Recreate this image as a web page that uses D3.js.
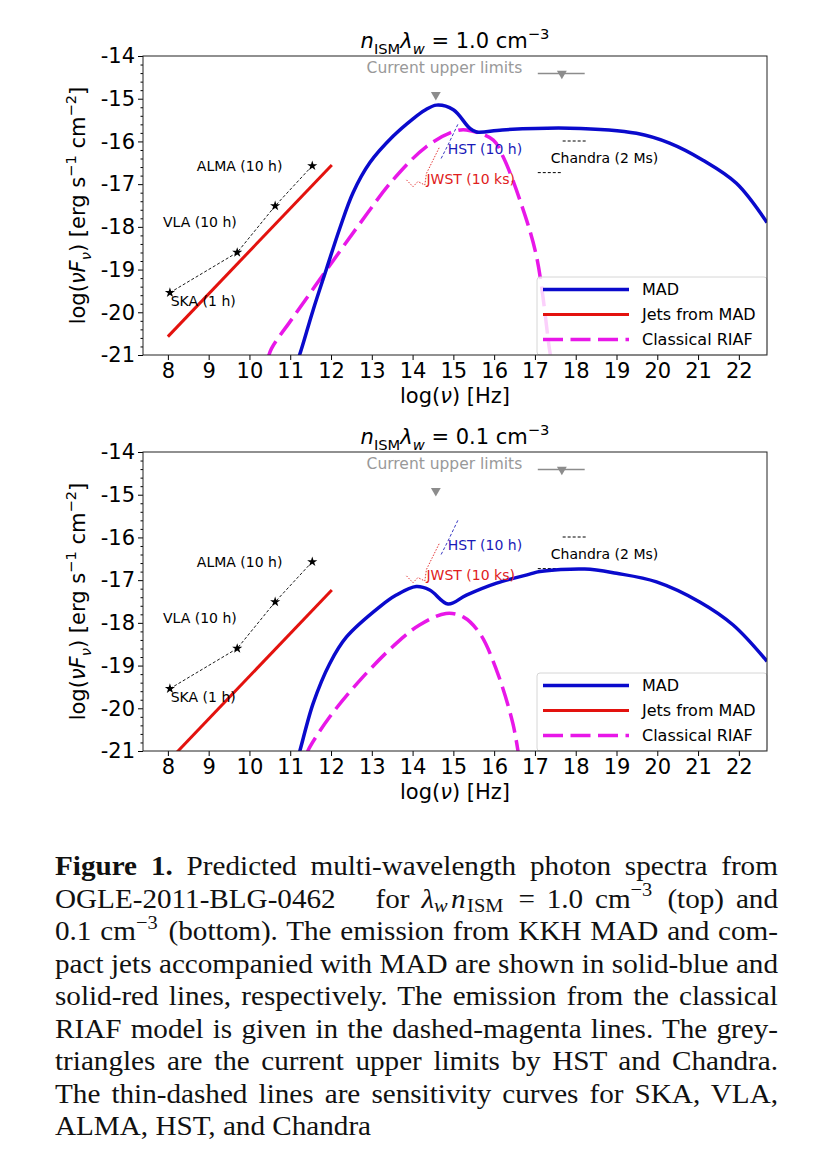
<!DOCTYPE html>
<html>
<head>
<meta charset="utf-8">
<script src="https://cdn.jsdelivr.net/npm/d3@7"></script>
<style>
body { margin: 0; background: #fff; }
svg { display: block; }
</style>
</head>
<body>
<svg id="fig" width="833" height="1168"></svg>
<script>

// values (log nu, log nuFnu)
var xTicks = [8, 9, 10, 11, 12, 13, 14, 15, 16, 17, 18, 19, 20, 21, 22];
var yTicks = [-21, -20, -19, -18, -17, -16, -15, -14];
var yMinorTicks = [-20.8, -20.6, -20.4, -20.2, -19.8, -19.6, -19.4, -19.2, -18.8, -18.6, -18.4, -18.2,
                   -17.8, -17.6, -17.4, -17.2, -16.8, -16.6, -16.4, -16.2, -15.8, -15.6, -15.4, -15.2,
                   -14.8, -14.6, -14.4, -14.2];

// top panel: n*lambda = 1.0
var madTop = [[11.18, -21.1], [11.22, -21.02], [11.56, -19.95], [11.89, -18.98], [12.22, -18.02],
              [12.54, -17.2], [12.95, -16.5], [13.52, -15.88], [14.01, -15.47], [14.3, -15.27],
              [14.59, -15.15], [15.0, -15.26], [15.4, -15.69], [15.57, -15.78], [16.2, -15.73],
              [17.85, -15.69], [19.49, -15.81], [20.3, -16.04], [21.12, -16.44], [21.94, -16.98],
              [22.69, -17.9]];
var riafTop = [[10.45, -21.1], [10.54, -20.85], [11.07, -20.12], [11.89, -19.01], [12.71, -17.92],
               [13.52, -16.9], [14.34, -16.12], [15.0, -15.77], [15.32, -15.73], [15.98, -15.97],
               [16.22, -16.36], [16.63, -17.37], [17.04, -18.7], [17.36, -20.89], [17.4, -21.1]];
var jetTop = [[8.0, -20.57], [12.02, -16.55]];

// bottom panel: n*lambda = 0.1
var madBot = [[11.2, -21.1], [11.24, -20.98], [11.56, -19.89], [11.97, -18.95], [12.38, -18.33],
              [13.2, -17.62], [13.6, -17.35], [14.09, -17.15], [14.42, -17.23], [14.87, -17.56],
              [15.32, -17.35], [16.06, -17.07], [16.87, -16.86], [17.12, -16.8], [18.22, -16.74],
              [19.0, -16.84], [19.98, -17.04], [21.04, -17.51], [21.86, -18.05], [22.69, -18.9]];
var riafBot = [[11.4, -21.1], [11.44, -20.98], [11.97, -20.2], [12.79, -19.26], [13.6, -18.48],
               [14.17, -18.05], [14.82, -17.78], [15.24, -17.86], [15.65, -18.25], [16.06, -19.11],
               [16.46, -20.36], [16.6, -21.1]];
var jetBot = [[8.0, -21.25], [12.02, -17.23]];

// sensitivity curves, same in both panels
var radioSens = [[8.05, -19.54], [9.7, -18.6], [10.63, -17.51], [11.54, -16.57]];
var hstSens = [[14.7, -16.4], [14.86, -16.1], [15.12, -15.58]];
var jwstSens = [[13.85, -16.9], [14.01, -17.06], [14.13, -16.94], [14.3, -17.02], [14.34, -16.75],
                [14.5, -16.44], [14.65, -16.15]];
var chandraSensA = [[17.68, -15.99], [18.27, -15.99]];
var chandraSensB = [[17.07, -16.73], [17.68, -16.73]];

// current upper limits
var hstLimit = [14.57, -14.91];
var chandraLimit = [17.66, -14.41];
var chandraBand = [17.07, 18.22];

// text labels: [text, log nu (left edge), log nuFnu (middle)]
var labels = [
  ["ALMA (10 h)", 8.71, -16.58, "#000"],
  ["VLA (10 h)", 7.88, -17.89, "#000"],
  ["SKA (1 h)", 8.07, -19.74, "#000"],
  ["HST (10 h)", 14.86, -16.18, "#1a1ab8"],
  ["JWST (10 ks)", 14.34, -16.89, "#e02020"],
  ["Chandra (2 Ms)", 17.39, -16.39, "#000"]
];

var titles = ["1.0", "0.1"];

var blue = "#0a0acc", red = "#e3120e", magenta = "#e817e8";

var svg = d3.select("#fig");
svg.append("rect").attr("width", 833).attr("height", 1168).attr("fill", "#fff");

var sans = "DejaVu Sans, sans-serif";

// writes a list of pieces into a text element, with sub/superscripts
function rich(sel, segs, size, subShift) {
  var shift = 0;
  if (subShift === undefined) subShift = 0.28;
  segs.forEach(function(s) {
    var target = 0, fs = size;
    if (s.sub) { target = size * subShift; fs = size * 0.7; }
    if (s.sup) { target = -size * 0.42; fs = size * 0.7; }
    var t = sel.append("tspan").text(s.t).attr("font-size", fs);
    if (target - shift != 0) t.attr("dy", target - shift);
    shift = target;
    if (s.i) t.attr("font-style", "italic");
    if (s.b) t.attr("font-weight", "bold");
    if (s.dx) t.attr("dx", s.dx);
    s.node = t;
  });
}

var x = d3.scaleLinear().domain([7.39, 22.69]).range([143, 767]);

var panels = [
  {top: 56, mad: madTop, riaf: riafTop, jet: jetTop, title: titles[0]},
  {top: 452, mad: madBot, riaf: riafBot, jet: jetBot, title: titles[1]}
];

panels.forEach(function(p, k) {
  var y = d3.scaleLinear().domain([-21, -14]).range([p.top + 299, p.top]);
  var g = svg.append("g");

  var clipId = "clip" + k;
  svg.append("clipPath").attr("id", clipId)
    .append("rect").attr("x", 143).attr("y", p.top).attr("width", 624).attr("height", 299);

  var plot = g.append("g").attr("clip-path", "url(#" + clipId + ")");

  var smooth = d3.line().x(function(d) { return x(d[0]); }).y(function(d) { return y(d[1]); })
    .curve(d3.curveCatmullRom.alpha(0.5));
  var straight = d3.line().x(function(d) { return x(d[0]); }).y(function(d) { return y(d[1]); });

  // sensitivity curves
  plot.append("path").attr("d", straight(radioSens)).attr("fill", "none")
    .attr("stroke", "#000").attr("stroke-width", 0.9).attr("stroke-dasharray", "3,2");
  plot.append("path").attr("d", straight(hstSens)).attr("fill", "none")
    .attr("stroke", "#2222bb").attr("stroke-width", 0.9).attr("stroke-dasharray", "3,2");
  plot.append("path").attr("d", straight(jwstSens)).attr("fill", "none")
    .attr("stroke", "#e02020").attr("stroke-width", 0.9).attr("stroke-dasharray", "1.5,1.5");
  [chandraSensA, chandraSensB].forEach(function(c) {
    plot.append("path").attr("d", straight(c)).attr("fill", "none")
      .attr("stroke", "#000").attr("stroke-width", 1).attr("stroke-dasharray", "3,2");
  });
  plot.selectAll(".star").data(radioSens).enter().append("path")
    .attr("d", d3.symbol().type(d3.symbolStar).size(32))
    .attr("transform", function(d) { return "translate(" + x(d[0]) + "," + y(d[1]) + ")"; })
    .attr("fill", "#000");

  // model spectra
  plot.append("path").attr("d", straight(p.jet)).attr("fill", "none")
    .attr("stroke", red).attr("stroke-width", 3);
  plot.append("path").attr("d", smooth(p.riaf)).attr("fill", "none")
    .attr("stroke", magenta).attr("stroke-width", 3.5).attr("stroke-dasharray", "20,7.5");
  plot.append("path").attr("d", smooth(p.mad)).attr("fill", "none")
    .attr("stroke", blue).attr("stroke-width", 3.5);

  // upper limits
  plot.append("line").attr("x1", x(chandraBand[0])).attr("x2", x(chandraBand[1]))
    .attr("y1", y(chandraLimit[1])).attr("y2", y(chandraLimit[1]))
    .attr("stroke", "#8c8c8c").attr("stroke-width", 1.3);
  [hstLimit, chandraLimit].forEach(function(d) {
    plot.append("path").attr("d", d3.symbol().type(d3.symbolTriangle).size(42))
      .attr("transform", "translate(" + x(d[0]) + "," + y(d[1]) + ") rotate(180)")
      .attr("fill", "#8c8c8c");
  });
  plot.append("text").attr("x", x(14.78)).attr("y", y(-14.28)).attr("dy", "0.35em")
    .attr("text-anchor", "middle").attr("font-family", sans).attr("font-size", 15.5)
    .attr("fill", "#999").text("Current upper limits");

  // labels
  labels.forEach(function(l) {
    plot.append("text").attr("x", x(l[1])).attr("y", y(l[2])).attr("dy", "0.35em")
      .attr("font-family", sans).attr("font-size", 14).attr("fill", l[3]).text(l[0]);
  });

  // legend
  var lg = g.append("g").attr("transform", "translate(537," + (p.top + 221) + ")");
  lg.append("rect").attr("width", 230).attr("height", 78).attr("rx", 3)
    .attr("fill", "#fff").attr("fill-opacity", 0.8).attr("stroke", "#d6d6d6");
  var entries = [["MAD", blue, null, 3.5], ["Jets from MAD", red, null, 3], ["Classical RIAF", magenta, "20,7.5", 3.5]];
  entries.forEach(function(e, i) {
    var yy = 12.5 + i * 25;
    lg.append("line").attr("x1", 6).attr("x2", 92).attr("y1", yy).attr("y2", yy)
      .attr("stroke", e[1]).attr("stroke-width", e[3]).attr("stroke-dasharray", e[2]);
    lg.append("text").attr("x", 105).attr("y", yy).attr("dy", "0.35em")
      .attr("font-family", sans).attr("font-size", 16).text(e[0]);
  });

  // axes
  var xa = g.append("g").attr("transform", "translate(0," + (p.top + 299) + ")")
    .call(d3.axisBottom(x).tickValues(xTicks).tickSize(5).tickSizeOuter(0).tickFormat(d3.format("d")));
  var ya = g.append("g").attr("transform", "translate(143,0)")
    .call(d3.axisLeft(y).tickValues(yTicks).tickSize(5).tickSizeOuter(0).tickFormat(function(d) { return String(d); }));
  g.append("g").attr("transform", "translate(143,0)")
    .call(d3.axisLeft(y).tickValues(yMinorTicks).tickSize(2.5).tickSizeOuter(0).tickFormat(""))
    .select(".domain").remove();
  [xa, ya].forEach(function(a) {
    a.selectAll("text").attr("font-family", sans).attr("font-size", 21).attr("fill", "#000");
    a.select(".domain").remove();
  });
  g.append("rect").attr("x", 143).attr("y", p.top).attr("width", 624).attr("height", 299)
    .attr("fill", "none").attr("stroke", "#222").attr("stroke-width", 1);

  // title and axis labels
  var t = g.append("text").attr("x", 455).attr("y", p.top - 8).attr("text-anchor", "middle")
    .attr("font-family", sans);
  rich(t, [{t: "n", i: 1}, {t: "ISM", sub: 1}, {t: "λ", i: 1}, {t: "w", i: 1, sub: 1},
           {t: " = " + p.title + " cm"}, {t: "−3", sup: 1}], 21);

  var xl = g.append("text").attr("x", 455).attr("y", p.top + 347).attr("text-anchor", "middle")
    .attr("font-family", sans);
  rich(xl, [{t: "log("}, {t: "ν", i: 1}, {t: ") [Hz]"}], 21);

  var yl = g.append("text").attr("transform", "translate(85," + (p.top + 149.5) + ") rotate(-90)")
    .attr("text-anchor", "middle").attr("font-family", sans);
  rich(yl, [{t: "log("}, {t: "νF", i: 1}, {t: "ν", i: 1, sub: 1}, {t: ") [erg s"}, {t: "−1", sup: 1},
            {t: " cm"}, {t: "−2", sup: 1}, {t: "]"}], 21);
});

// caption, justified line by line (glyphs widened a little to look like Computer Modern)
var serif = "Liberation Serif, Times New Roman, serif";
var caption = [
  [{t: "Figure 1.", b: 1}, {t: " Predicted multi-wavelength photon spectra from"}],
  [{t: "OGLE-2011-BLG-0462 "}, {t: "for ", dx: 14, fill: 1}, {t: "λ", i: 1}, {t: "w", i: 1, sub: 1},
   {t: "n", i: 1, dx: 3}, {t: "ISM", sub: 1, dx: 1.5}, {t: " = 1.0 cm", dx: 3}, {t: "−3", sup: 1}, {t: " (top) and", dx: 3}],
  [{t: "0.1 cm"}, {t: "−3", sup: 1}, {t: " (bottom). The emission from KKH MAD and com-", dx: 2}],
  [{t: "pact jets accompanied with MAD are shown in solid-blue and"}],
  [{t: "solid-red lines, respectively. The emission from the classical"}],
  [{t: "RIAF model is given in the dashed-magenta lines. The grey-"}],
  [{t: "triangles are the current upper limits by HST and Chandra."}],
  [{t: "The thin-dashed lines are sensitivity curves for SKA, VLA,"}],
  [{t: "ALMA, HST, and Chandra"}]
];
var sx = 1.08;
caption.forEach(function(line, i) {
  var txt = svg.append("text")
    .attr("transform", "translate(55," + (875 + i * 32.5) + ") scale(" + sx + ",1)")
    .attr("font-family", serif).attr("fill", "#111");
  rich(txt, line, 27, 0.16);
  if (i < caption.length - 1) {
    var extra = 723 / sx - txt.node().getBBox().width;
    var spaces = line.map(function(s) { return s.t; }).join("").split(" ").length - 1;
    var filler = line.filter(function(s) { return s.fill; })[0];
    if (filler) {
      // the wide gap after the object name takes part of the slack
      var gap = Math.min(extra, 12);
      filler.node.attr("dx", filler.dx + gap);
      extra -= gap;
    }
    txt.attr("word-spacing", extra / spaces);
  }
});

</script>
</body>
</html>
